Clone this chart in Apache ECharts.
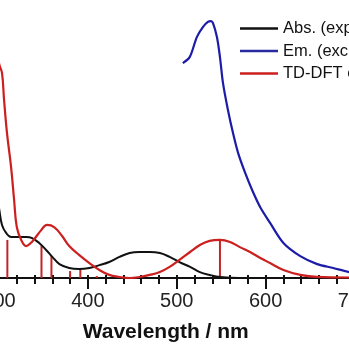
<!DOCTYPE html>
<html>
<head>
<meta charset="utf-8">
<script src="https://cdn.jsdelivr.net/npm/echarts@6/dist/echarts.min.js"></script>
<style>html,body{margin:0;padding:0;background:#fff;}#c{width:349px;height:349px;}</style>
</head>
<body>
<div id="c"></div>
<script>
// Absorption (experimental)
var absWl  = [296, 300, 303.4, 308, 313.6, 322.6, 330.5, 337.3, 345.2, 353, 360, 368, 379, 390, 401.7, 413, 424, 435.6, 447, 458, 469.5, 481, 492, 503, 515, 526, 537, 548.6, 571, 600, 650, 700];
var absVal = [0.34, 0.272, 0.206, 0.175, 0.159, 0.159, 0.159, 0.155, 0.136, 0.109, 0.082, 0.054, 0.039, 0.035, 0.039, 0.050, 0.062, 0.082, 0.097, 0.101, 0.101, 0.097, 0.082, 0.062, 0.043, 0.023, 0.012, 0.004, 0.0, 0.0, 0.0, 0.0];
// Emission
var emWl  = [506.8, 514.7, 522.6, 529.4, 535, 538.4, 540.7, 545.2, 548.6, 552, 557.6, 563.3, 569, 577, 584.8, 593.8, 605, 620, 639, 658, 676, 694, 700];
var emVal = [0.835, 0.859, 0.936, 0.975, 0.995, 0.998, 0.991, 0.936, 0.859, 0.758, 0.653, 0.563, 0.486, 0.408, 0.342, 0.276, 0.214, 0.136, 0.085, 0.054, 0.039, 0.023, 0.02];
// TD-DFT broadened spectrum
var dftWl  = [296, 300, 303.4, 305.7, 309, 313.6, 317, 320, 325, 330.5, 337, 347.5, 354, 362, 371, 379, 390.4, 401.7, 413, 424, 435.6, 447, 458, 469.5, 481, 492, 503, 515, 526, 537, 548.6, 560, 571, 582.5, 594, 605, 620, 639, 658, 694, 700];
var dftVal = [0.97, 0.835, 0.796, 0.692, 0.563, 0.431, 0.303, 0.198, 0.148, 0.124, 0.140, 0.186, 0.206, 0.198, 0.163, 0.124, 0.089, 0.058, 0.031, 0.012, 0.004, 0.0, 0.004, 0.012, 0.023, 0.043, 0.070, 0.101, 0.128, 0.144, 0.148, 0.140, 0.120, 0.101, 0.078, 0.058, 0.031, 0.012, 0.004, 0.002, 0.002];
// TD-DFT oscillator sticks
var stickWl  = [309.4, 347.8, 359, 380, 391.5, 410, 548.6];
var stickVal = [0.148, 0.124, 0.085, 0.027, 0.035, 0.008, 0.148];

var seriesNames = ['Abs. (exp.)', 'Em. (exc. at 470 nm)', 'TD-DFT calc.'];
var xTicks = [300, 400, 500, 600, 700];

function pairs(xs, ys) { return xs.map(function (x, i) { return [x, ys[i]]; }); }

var chart = echarts.init(document.getElementById('c'), null, {renderer: 'canvas'});
var font = 'Liberation Sans, Arial, Helvetica, sans-serif';
var xBase = {
  type: 'value', min: 300, max: 700, interval: 100,
  splitLine: {show: false}
};
chart.setOption({
  animation: false,
  backgroundColor: '#fff',
  grid: {left: -1, right: -5.5, top: 0, bottom: 71, containLabel: false, outerBoundsMode: 'none'},
  legend: {
    orient: 'vertical', left: 235, top: 15, itemGap: 5.5,
    itemWidth: 38, itemHeight: 2.5, icon: 'rect',
    textStyle: {fontFamily: font, fontSize: 16.5, color: '#111', lineHeight: 16},
    data: seriesNames
  },
  xAxis: [
    Object.assign({}, xBase, {
      position: 'bottom',
      axisLine: {show: true, lineStyle: {color: '#111', width: 2.2}},
      axisTick: {show: true, length: 11, lineStyle: {color: '#111', width: 2}},
      minorTick: {show: true, splitNumber: 5, length: 6, lineStyle: {color: '#111', width: 2}},
      axisLabel: {show: true, margin: 13, fontFamily: font, fontSize: 20, color: '#222',
        showMinLabel: true, showMaxLabel: true,
        formatter: function (v) { return xTicks.indexOf(v) >= 0 ? String(v) : ''; }},
      name: 'Wavelength / nm', nameLocation: 'middle', nameGap: 44,
      nameTextStyle: {fontFamily: font, fontSize: 21, fontWeight: 'bold', color: '#111',
        padding: [0, 22, 0, 0]}
    }),
    Object.assign({}, xBase, {
      position: 'bottom',
      axisLine: {show: false},
      axisTick: {show: true, inside: true, length: 3, lineStyle: {color: '#111', width: 2}},
      minorTick: {show: true, splitNumber: 5, length: 3, lineStyle: {color: '#111', width: 2}},
      axisLabel: {show: false}
    })
  ],
  yAxis: {type: 'value', min: 0, max: 1.08, show: false},
  series: [
    {name: seriesNames[0], type: 'line', data: pairs(absWl, absVal), smooth: 0.4, showSymbol: false,
     lineStyle: {color: '#111', width: 2}, itemStyle: {color: '#111'}, z: 3},
    {name: seriesNames[1], type: 'line', data: pairs(emWl, emVal), smooth: 0.3, showSymbol: false,
     lineStyle: {color: '#1c1ca8', width: 2.2}, itemStyle: {color: '#2a2aa0'}, z: 3},
    {name: seriesNames[2], type: 'line', data: pairs(dftWl, dftVal), smooth: 0.4, showSymbol: false,
     lineStyle: {color: '#cc1f1f', width: 2.2}, itemStyle: {color: '#cc1f1f'}, z: 4},
    {name: 'sticks', type: 'custom', data: pairs(stickWl, stickVal), z: 2,
     renderItem: function (params, api) {
       var p0 = api.coord([api.value(0), 0]);
       var p1 = api.coord([api.value(0), api.value(1)]);
       return {type: 'line', shape: {x1: p0[0], y1: p0[1], x2: p1[0], y2: p1[1]},
               style: {stroke: '#c42424', lineWidth: 2}};
     }}
  ]
});
</script>
</body>
</html>
